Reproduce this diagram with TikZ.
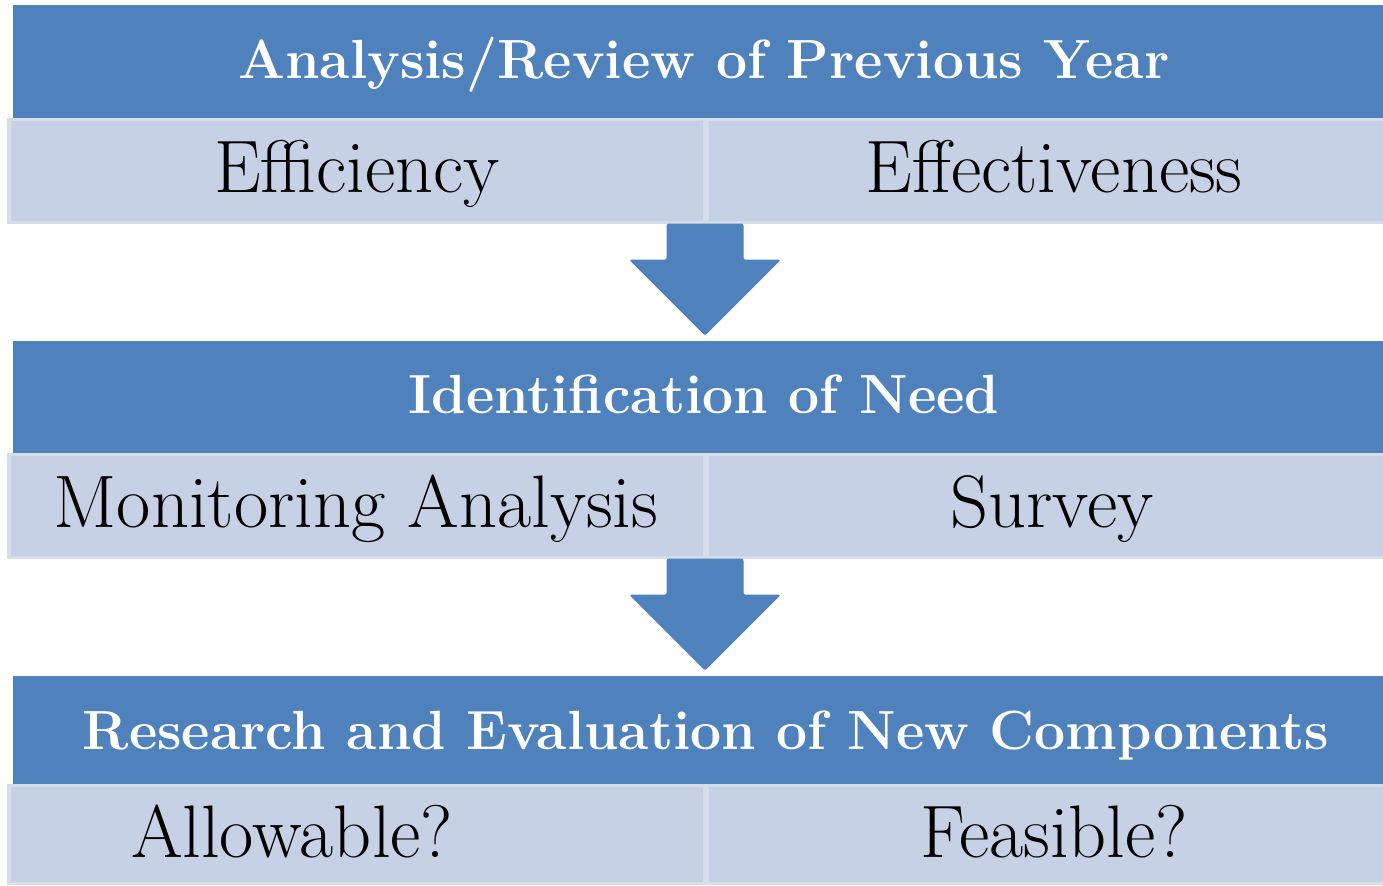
\documentclass[tikz,border=0pt]{standalone}
\usepackage{xcolor}
\definecolor{hdrblue}{HTML}{4F81BD}
\definecolor{cellfill}{HTML}{C6D1E6}
\definecolor{celledge}{HTML}{D5DCEA}
\begin{document}
\begin{tikzpicture}[x=0.5pt,y=-0.5pt,
  hdrtext/.style={text=white,font=\fontsize{27.6}{32}\selectfont\bfseries,inner sep=0pt,anchor=base},
  celltext/.style={text=black,font=\fontsize{37.2}{44}\selectfont,inner sep=0pt,anchor=base},
  bigarrow/.style={fill=hdrblue,draw=hdrblue,line width=0.5pt,rounded corners=1pt}]
\useasboundingbox (0,0) rectangle (1383,885);
\foreach \top/\hb/\rb in {5/118/224, 341/453/559, 676/784/885}{
  \fill[hdrblue] (13,\top) rectangle (1383,\hb);
  \fill[celledge] (7,\hb) rectangle (1383,\rb);
  \fill[cellfill] (11,\hb+3) rectangle (703,\rb-3);
  \fill[cellfill] (709,\hb+3) rectangle (1383,\rb-3);
}
% headers
\node[hdrtext] (h1) at (704,78) {Analysis/Review of Previous Year};
\node[hdrtext] (h2) at (704,413) {Identification of Need};
\node[hdrtext] (h3) at (706,749) {Research and Evaluation of New Components};
% cells
\node[celltext] (c1a) at (357,192) {Efficiency};
\node[celltext] (c1b) at (1054,192) {Effectiveness};
\node[celltext] (c2a) at (356,527) {Monitoring Analysis};
\node[celltext] (c2b) at (1052,527) {Survey};
\node[celltext] (c3a) at (292,857) {Allowable?};
\node[celltext] (c3b) at (1054,857) {Feasible?};
% arrows
\foreach \y in {0,335}{
  \path[bigarrow] (667,224+\y) -- (743,224+\y) -- (743,260+\y) -- (780,260+\y)
    -- (705,335+\y) -- (630,260+\y) -- (667,260+\y) -- cycle;
}
\end{tikzpicture}
\end{document}
